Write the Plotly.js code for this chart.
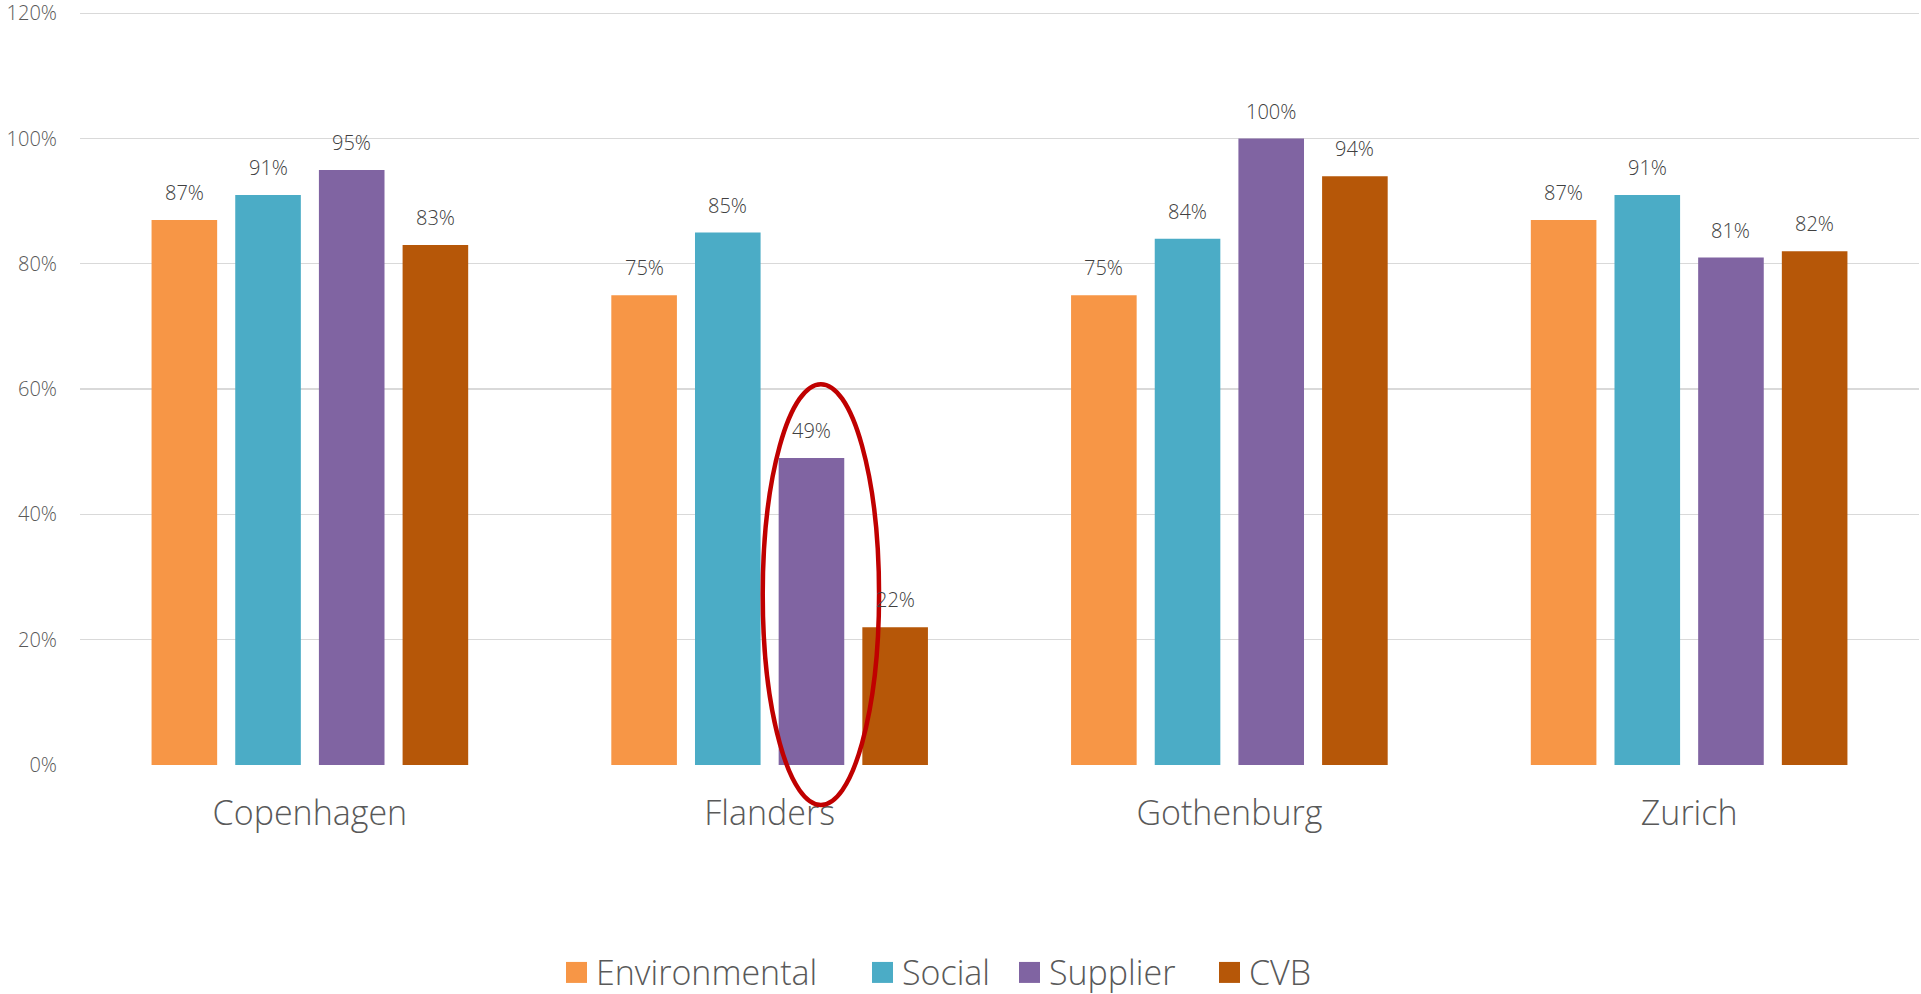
<!DOCTYPE html>
<html>
<head>
<meta charset="utf-8">
<script src="https://cdn.plot.ly/plotly-3.0.1.min.js"></script>
<style>
  html, body { margin: 0; padding: 0; background: #ffffff; }
  #chart { width: 1921px; height: 994px; }
</style>
</head>
<body>
<div id="chart"></div>
<script>
// Survey results per destination, in percent
const cities = ['Copenhagen', 'Flanders', 'Gothenburg', 'Zurich'];
const seriesNames = ['Environmental', 'Social', 'Supplier', 'CVB'];
const environmental = [87, 75, 75, 87];
const social = [91, 85, 84, 91];
const supplier = [95, 49, 100, 81];
const cvb = [83, 22, 94, 82];
const yTickValues = [0, 20, 40, 60, 80, 100, 120];
const yTickLabels = ['0%', '20%', '40%', '60%', '80%', '100%', '120%'];

const seriesValues = [environmental, social, supplier, cvb];
const seriesColors = ['#F79646', '#4BACC6', '#8064A2', '#B65708'];

const FONT = '"Open Sans", "Noto Sans", sans-serif';
const W = 1921, H = 994;
const Y_MAX = 121;
// plot area: 0% at y=765 px, 120% at y=13 px
const M = { l: 80, r: 2, t: 765 - (765 - 13) * Y_MAX / 120, b: 229 };
const plotW = W - M.l - M.r, plotH = H - M.t - M.b;
const BARGAP = 0.272, BARGROUPGAP = 0.216;

// pixel -> paper helpers for the decorations outside the bars
const px2x = px => (px - M.l) / plotW;
const px2y = py => (H - M.b - py) / plotH;

const traces = seriesNames.map((name, k) => ({
  type: 'bar',
  name: name,
  x: cities,
  y: seriesValues[k],
  marker: { color: seriesColors[k], line: { width: 0 } },
  showlegend: false,
  hoverinfo: 'x+y+name'
}));

// value labels placed above each bar of the group
const slot = (1 - BARGAP) / seriesNames.length;
const annotations = [];
seriesValues.forEach((vals, k) => {
  vals.forEach((v, i) => {
    annotations.push({
      xref: 'x', yref: 'y',
      x: i + (k - (seriesNames.length - 1) / 2) * slot,
      y: v,
      text: v + '%',
      showarrow: false,
      yanchor: 'bottom',
      yshift: 12,
      font: { family: FONT, size: 20, weight: 300, color: '#404040' }
    });
  });
});

// legend row drawn as squares + labels
const legendSquareX = [566, 872, 1019, 1219];
const shapes = [];
seriesNames.forEach((name, k) => {
  const sx = legendSquareX[k];
  shapes.push({
    type: 'rect', xref: 'paper', yref: 'paper',
    x0: px2x(sx), x1: px2x(sx + 21),
    y0: px2y(983), y1: px2y(962),
    fillcolor: seriesColors[k], line: { width: 0 }
  });
  annotations.push({
    xref: 'paper', yref: 'paper',
    x: px2x(sx + 28), y: px2y(972),
    xanchor: 'left', yanchor: 'middle',
    text: name, showarrow: false,
    font: { family: FONT, size: 34, weight: 300, color: '#595959' }
  });
});

// highlight ring around the Flanders supplier bar
shapes.push({
  type: 'circle', xref: 'x', yref: 'paper',
  x0: 0.985, x1: 1.238,
  y0: px2y(805), y1: px2y(384),
  line: { color: '#C00000', width: 4.5 },
  fillcolor: 'rgba(0,0,0,0)',
  layer: 'above'
});

const layout = {
  width: W, height: H,
  margin: M,
  paper_bgcolor: '#ffffff',
  plot_bgcolor: '#ffffff',
  barmode: 'group',
  bargap: BARGAP,
  bargroupgap: BARGROUPGAP,
  showlegend: false,
  font: { family: FONT, color: '#595959' },
  xaxis: {
    type: 'category',
    showgrid: false, zeroline: false, showline: false,
    ticks: '', ticklabelstandoff: 25,
    tickfont: { family: FONT, size: 34, weight: 300, color: '#595959' },
    automargin: false,
    fixedrange: true
  },
  yaxis: {
    range: [0, Y_MAX],
    tickvals: yTickValues,
    ticktext: yTickLabels,
    showgrid: true, gridcolor: '#D9D9D9', gridwidth: 1.3,
    zeroline: false, showline: false,
    ticks: '', ticklabelstandoff: 22,
    ticklabeloverflow: 'allow',
    tickfont: { family: FONT, size: 20, weight: 300, color: '#595959' },
    automargin: false,
    fixedrange: true
  },
  shapes: shapes,
  annotations: annotations
};

Plotly.newPlot('chart', traces, layout, { displayModeBar: false, staticPlot: true });
</script>
</body>
</html>
